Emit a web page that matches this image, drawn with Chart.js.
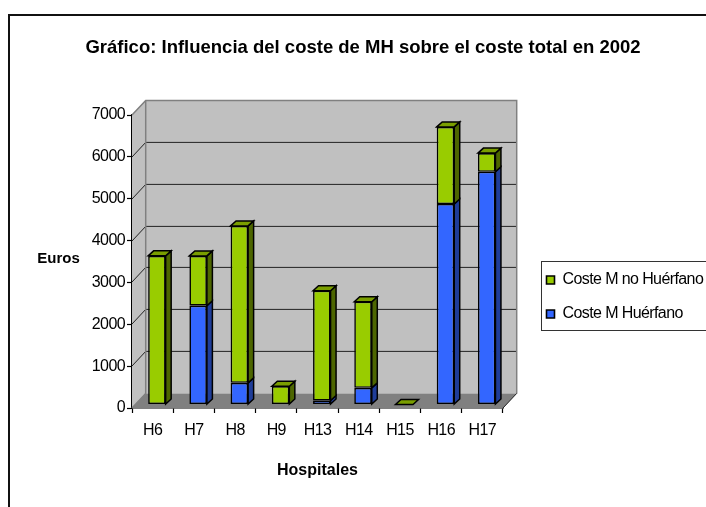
<!DOCTYPE html>
<html>
<head>
<meta charset="utf-8">
<style>html,body{margin:0;padding:0;background:#fff}canvas{display:block}</style>
<script src="https://cdn.jsdelivr.net/npm/chart.js@4"></script>
</head>
<body>
<canvas id="c" width="706" height="507"></canvas>
<script>
const categories = ["H6","H7","H8","H9","H13","H14","H15","H16","H17"];
const costeHuerfano = [0,2360,517,0,95,398,0,4790,5560];
const costeNoHuerfano = [3551,1190,3750,436,2622,2057,0,1842,446];
const yTicks = [0,1000,2000,3000,4000,5000,6000,7000];
const titleText = "Gráfico: Influencia del coste de MH sobre el coste total en 2002";
const yTitle = "Euros";
const xTitle = "Hospitales";

const FONT = "'Liberation Sans', Arial, sans-serif";
const TIGHT = "-0.6px";
const GREEN = "#99CC00", BLUE = "#3366FF";
const FACE = {[GREEN]:{side:"#4D6600",top:"#7A9E00"},[BLUE]:{side:"#1F3D99",top:"#2952CC"}};
const WALL = {dx:13.7,dy:14.6};
const BAR = {shiftX:4.3,shiftY:3.5,dx:5.5,dy:5};

function poly(ctx,pts,fill,stroke,lw){
  ctx.beginPath();
  pts.forEach((p,i)=>i?ctx.lineTo(p[0],p[1]):ctx.moveTo(p[0],p[1]));
  ctx.closePath();
  if(fill){ctx.fillStyle=fill;ctx.fill();}
  if(stroke){ctx.strokeStyle=stroke;ctx.lineWidth=lw;ctx.stroke();}
}
function normalSpacing(obj,method,ctx){
  const orig=obj[method];
  obj[method]=function(...a){ctx.letterSpacing="0px";orig.apply(this,a);ctx.letterSpacing=TIGHT;};
}

const pseudo3d = {
  id:"pseudo3d",
  beforeLayout(chart){
    const l=chart.legend;
    if(!l._fixedFit){
      const fit=l.fit;
      l.fit=function(){fit.call(this);this.width=203;};
      l._fixedFit=true;
      normalSpacing(chart.titleBlock,"draw",chart.ctx);
      normalSpacing(chart.scales.x,"drawTitle",chart.ctx);
    }
  },
  afterLayout(chart){
    const l=chart.legend;
    l.left=528.5;l.right=706;l.top=254;l.bottom=340;
  },
  beforeDraw(chart){
    const ctx=chart.ctx;
    ctx.save();
    ctx.fillStyle="#fff";ctx.fillRect(0,0,chart.width,chart.height);
    ctx.strokeStyle="#111";ctx.lineWidth=2;
    ctx.beginPath();ctx.moveTo(9,507);ctx.lineTo(9,15);ctx.lineTo(706,15);ctx.stroke();
    ctx.strokeStyle="#333";ctx.lineWidth=1;
    ctx.strokeRect(541.5,261.5,170,69);
    ctx.restore();
    ctx.letterSpacing=TIGHT;
  },
  beforeDatasetsDraw(chart){
    const ctx=chart.ctx,y=chart.scales.y,x=chart.scales.x;
    const L=x.left,R=x.right,T=y.top,B=y.bottom,dx=WALL.dx,dy=WALL.dy;
    ctx.save();
    poly(ctx,[[L+dx,T-dy],[R+dx,T-dy],[R+dx,B-dy],[L+dx,B-dy]],"#C0C0C0");
    poly(ctx,[[L,T],[L+dx,T-dy],[L+dx,B-dy],[L,B]],"#C0C0C0");
    poly(ctx,[[L,B],[L+dx,B-dy],[R+dx,B-dy],[R,B]],"#808080");
    ctx.lineWidth=1;
    yTicks.forEach(v=>{
      const py=Math.round(y.getPixelForValue(v));
      if(v>0&&v<7000){
        ctx.strokeStyle="#222";
        ctx.beginPath();ctx.moveTo(L,py);ctx.lineTo(L+dx,py-dy);ctx.lineTo(R+dx,py-dy);ctx.stroke();
      }
    });
    ctx.strokeStyle="#808080";ctx.lineWidth=1.5;
    ctx.beginPath();
    ctx.moveTo(L,T);ctx.lineTo(L+dx,T-dy);ctx.lineTo(R+dx,T-dy);ctx.lineTo(R+dx,B-dy);
    ctx.moveTo(L+dx,T-dy);ctx.lineTo(L+dx,B-dy);ctx.lineTo(L,B);
    ctx.stroke();
    ctx.strokeStyle="#222";ctx.lineWidth=1;
    ctx.beginPath();ctx.moveTo(R,B);ctx.lineTo(R+dx,B-dy);ctx.stroke();
    ctx.restore();

    ctx.save();
    ctx.translate(BAR.shiftX,-BAR.shiftY);
    const last=chart.data.datasets.length-1;
    chart.data.datasets.forEach((ds,i)=>{
      const meta=chart.getDatasetMeta(i);
      meta.data.forEach(el=>{
        const p=el.getProps(["x","y","base","width"],true);
        const r=p.x+p.width/2,l=p.x-p.width/2,f=FACE[ds.backgroundColor];
        if(Math.abs(p.base-p.y)>0.5){
          poly(ctx,[[r,p.y],[r+BAR.dx,p.y-BAR.dy],[r+BAR.dx,p.base-BAR.dy],[r,p.base]],f.side,"#000",1.5);
        }
        if(i===last){
          poly(ctx,[[l,p.y],[l+BAR.dx,p.y-BAR.dy],[r+BAR.dx,p.y-BAR.dy],[r,p.y]],f.top,"#000",1.5);
        }
      });
    });
    ctx.restore();

    ctx.save();
    ctx.translate(BAR.shiftX,-BAR.shiftY);
  },
  afterDatasetsDraw(chart){
    chart.ctx.restore();
  },
  afterDraw(chart){
    const ctx=chart.ctx;
    ctx.save();
    ctx.letterSpacing="0px";
    ctx.font="bold 15px "+FONT;
    ctx.fillStyle="#000";ctx.textAlign="center";ctx.textBaseline="middle";
    ctx.fillText(yTitle,58.5,259);
    ctx.restore();
    ctx.letterSpacing="0px";
  }
};

new Chart(document.getElementById("c"),{
  type:"bar",
  data:{
    labels:categories,
    datasets:[
      {label:"Coste M Huérfano",data:costeHuerfano,backgroundColor:BLUE,borderColor:"#000",borderWidth:1.6,borderSkipped:false},
      {label:"Coste M no Huérfano",data:costeNoHuerfano,backgroundColor:GREEN,borderColor:"#000",borderWidth:1.6,borderSkipped:false}
    ]
  },
  plugins:[pseudo3d],
  options:{
    responsive:false,
    animation:false,
    events:[],
    layout:{padding:{left:20,right:0,top:0,bottom:0}},
    datasets:{bar:{categoryPercentage:0.425,barPercentage:1}},
    scales:{
      x:{
        stacked:true,
        afterFit(s){s.height=99;},
        border:{color:"#000",width:1.5},
        grid:{drawOnChartArea:false,drawTicks:true,tickLength:5,tickColor:"#000",tickWidth:1.2},
        ticks:{color:"#000",font:{family:FONT,size:16},padding:8,maxRotation:0,autoSkip:false},
        title:{display:true,text:xTitle,color:"#000",font:{family:FONT,size:16,weight:"bold"},padding:{top:0,bottom:27}}
      },
      y:{
        stacked:true,min:0,max:7000,
        afterFit(s){s.width=112;},
        border:{color:"#000",width:1.5},
        grid:{drawOnChartArea:false,drawTicks:true,tickLength:5,tickColor:"#000",tickWidth:1.2},
        ticks:{color:"#000",font:{family:FONT,size:16},padding:2,stepSize:1000,callback:v=>String(v)}
      }
    },
    plugins:{
      tooltip:{enabled:false},
      title:{display:true,text:titleText,color:"#000",font:{family:FONT,size:18.5,weight:"bold"},padding:{top:36.5,bottom:56.3}},
      legend:{
        position:"right",align:"start",
        labels:{
          color:"#000",font:{family:FONT,size:16},boxWidth:8,boxHeight:8,padding:18,
          sort:(a,b)=>b.datasetIndex-a.datasetIndex
        }
      }
    }
  }
});
</script>
</body>
</html>
